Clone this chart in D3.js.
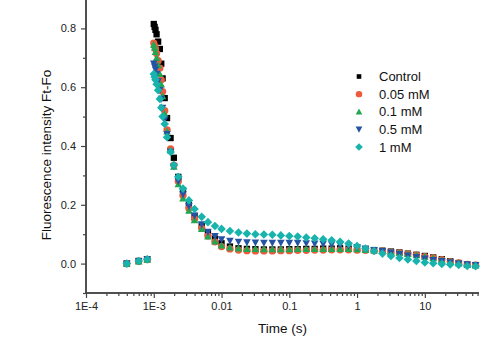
<!DOCTYPE html>
<html>
<head>
<meta charset="utf-8">
<script src="https://cdn.jsdelivr.net/npm/d3@7"></script>
<style>
  html, body { margin: 0; padding: 0; background: #fff; }
  svg { display: block; font-family: Arial, "Liberation Sans", sans-serif; }
</style>
</head>
<body>
<div id="chart"></div>
<script>
// sampling times (s)
const times = [
  0.0004, 0.0006, 0.0008,
  0.00100, 0.00103, 0.00106, 0.00110, 0.00116, 0.00123, 0.00129, 0.00135, 0.00145, 0.00157,
  0.00177, 0.00198, 0.00230, 0.00270, 0.00330, 0.00400, 0.00510, 0.00630, 0.00800,
  0.0100, 0.0133, 0.0178, 0.0237, 0.0316, 0.0422, 0.0562, 0.0750,
  0.100, 0.133, 0.178, 0.237, 0.316, 0.422, 0.562, 0.750,
  1.00, 1.33, 1.78, 2.37, 3.16, 4.22, 5.62, 7.50,
  10.0, 13.3, 17.8, 23.7, 31.6, 42.2, 56.2
];

const seriesNames = ["Control", "0.05 mM", "0.1 mM", "0.5 mM", "1 mM"];

// Ft-Fo for each treatment
const control = [
  0.0, 0.009, 0.015,
  0.815, 0.805, 0.795, 0.78, 0.755, 0.73, 0.68, 0.63, 0.563, 0.495,
  0.427, 0.36, 0.295, 0.25, 0.20, 0.162, 0.13, 0.105, 0.085,
  0.069, 0.058, 0.052, 0.05, 0.049, 0.048, 0.048, 0.048,
  0.049, 0.049, 0.05, 0.05, 0.051, 0.051, 0.052, 0.051,
  0.05, 0.048, 0.046, 0.044, 0.041, 0.038, 0.034, 0.03,
  0.026, 0.021, 0.015, 0.008, 0.002, -0.004, -0.005
];
const mM005 = [
  0.0, 0.008, 0.014,
  0.75, 0.74, 0.73, 0.715, 0.69, 0.665, 0.625, 0.585, 0.52, 0.455,
  0.39, 0.335, 0.28, 0.232, 0.188, 0.152, 0.12, 0.094, 0.074,
  0.058, 0.05, 0.046, 0.044, 0.043, 0.043, 0.043, 0.044,
  0.044, 0.045, 0.045, 0.046, 0.046, 0.047, 0.047, 0.047,
  0.046, 0.045, 0.044, 0.042, 0.039, 0.036, 0.033, 0.029,
  0.024, 0.019, 0.013, 0.007, 0.002, -0.003, -0.005
];
const mM01 = [
  0.0, 0.008, 0.014,
  0.745, 0.735, 0.72, 0.70, 0.675, 0.645, 0.61, 0.57, 0.51, 0.45,
  0.385, 0.33, 0.27, 0.222, 0.18, 0.148, 0.118, 0.093, 0.076,
  0.062, 0.055, 0.052, 0.05, 0.05, 0.049, 0.049, 0.049,
  0.049, 0.05, 0.05, 0.05, 0.05, 0.05, 0.05, 0.05,
  0.049, 0.047, 0.045, 0.043, 0.04, 0.037, 0.033, 0.029,
  0.024, 0.019, 0.013, 0.007, 0.002, -0.003, -0.006
];
const mM05 = [
  0.0, 0.008, 0.014,
  0.68, 0.67, 0.66, 0.645, 0.62, 0.59, 0.56, 0.53, 0.49, 0.44,
  0.38, 0.33, 0.28, 0.235, 0.195, 0.163, 0.133, 0.108, 0.093,
  0.082, 0.077, 0.074, 0.072, 0.071, 0.07, 0.07, 0.07,
  0.07, 0.07, 0.069, 0.068, 0.067, 0.065, 0.063, 0.06,
  0.056, 0.051, 0.046, 0.042, 0.037, 0.032, 0.027, 0.022,
  0.017, 0.012, 0.008, 0.004, 0.0, -0.003, -0.005
];
const mM1 = [
  0.0, 0.009, 0.015,
  0.645, 0.635, 0.625, 0.61, 0.59, 0.56, 0.53, 0.50, 0.475, 0.43,
  0.38, 0.335, 0.295, 0.255, 0.215, 0.186, 0.159, 0.141, 0.128,
  0.118, 0.111, 0.106, 0.102, 0.1, 0.099, 0.098, 0.096,
  0.094, 0.092, 0.089, 0.086, 0.083, 0.079, 0.074, 0.068,
  0.06, 0.051, 0.043, 0.034, 0.026, 0.019, 0.014, 0.009,
  0.004, 0.001, -0.001, -0.003, -0.005, -0.008, -0.009
];

const xMajorTicks = [1e-4, 1e-3, 1e-2, 1e-1, 1, 10];
const xTickLabels = ["1E-4", "1E-3", "0.01", "0.1", "1", "10"];
const yMajorTicks = [0, 0.2, 0.4, 0.6, 0.8];
const yMinorTicks = [-0.1, 0.1, 0.3, 0.5, 0.7];

const width = 504, height = 345;
const margin = { top: -1, right: 25, bottom: 52, left: 86 };

const colors = ["#000000", "#ef5a3c", "#22a652", "#2553a3", "#17b3ac"];
const symbols = ["square", "circle", "triangle", "triangleDown", "diamond"];

const svg = d3.select("#chart").append("svg")
  .attr("width", width)
  .attr("height", height);

const x = d3.scaleLog()
  .domain([1e-4, 63])
  .range([margin.left, width - margin.right]);

const y = d3.scaleLinear()
  .domain([-0.1, 0.9])
  .range([height - margin.bottom, margin.top]);

const axisColor = "#444";
const plotBottom = height - margin.bottom;

// minor log ticks, 2..9 within each decade
const xMinorTicks = [];
xMajorTicks.forEach(d => {
  for (let k = 2; k <= 9; k++) {
    const v = d * k;
    if (v <= x.domain()[1]) xMinorTicks.push(v);
  }
});

// x axis
const gx = svg.append("g").attr("transform", `translate(0,${plotBottom})`);
gx.call(d3.axisBottom(x).tickValues(xMinorTicks).tickSize(3).tickFormat(""));
gx.call(g => g.append("g").call(d3.axisBottom(x).tickValues(xMajorTicks).tickSize(5)
  .tickFormat((d, i) => xTickLabels[i])));
gx.selectAll("path.domain").attr("stroke", axisColor).attr("stroke-width", 1.5)
  .attr("d", `M${margin.left},0H${width - margin.right}`);
gx.selectAll(".tick line").attr("stroke", axisColor).attr("stroke-width", 1.2);
gx.selectAll(".tick text").attr("fill", "#222").attr("font-size", 11)
  .attr("font-family", "Arial, 'Liberation Sans', sans-serif").attr("y", 9);

// y axis
const gy = svg.append("g").attr("transform", `translate(${margin.left},0)`);
gy.call(d3.axisLeft(y).tickValues(yMinorTicks).tickSize(3).tickFormat(""));
gy.call(g => g.append("g").call(d3.axisLeft(y).tickValues(yMajorTicks).tickSize(5)
  .tickFormat(d3.format(".1f"))));
gy.selectAll("path.domain").attr("stroke", axisColor).attr("stroke-width", 1.5)
  .attr("d", `M0,${plotBottom}V0`);
gy.selectAll(".tick line").attr("stroke", axisColor).attr("stroke-width", 1.2);
gy.selectAll(".tick text").attr("fill", "#222").attr("font-size", 11)
  .attr("font-family", "Arial, 'Liberation Sans', sans-serif").attr("x", -10);

// axis titles
svg.append("text")
  .attr("x", (margin.left + width - margin.right) / 2)
  .attr("y", 333)
  .attr("text-anchor", "middle")
  .attr("font-size", 13.5)
  .attr("fill", "#111")
  .text("Time (s)");

svg.append("text")
  .attr("transform", "translate(51,155) rotate(-90)")
  .attr("text-anchor", "middle")
  .attr("font-size", 13.5)
  .attr("fill", "#111")
  .text("Fluorescence intensity Ft-Fo");

// marker shapes
function drawMarker(sel, kind, color, s) {
  if (kind === "square") {
    sel.append("rect").attr("x", -s / 2).attr("y", -s / 2).attr("width", s).attr("height", s).attr("fill", color);
  } else if (kind === "circle") {
    sel.append("circle").attr("r", s * 0.58).attr("fill", color);
  } else if (kind === "triangle") {
    const h = s * 1.0, w = s * 1.2;
    sel.append("path").attr("d", `M0,${-h * 0.6}L${w / 2},${h * 0.5}L${-w / 2},${h * 0.5}Z`).attr("fill", color);
  } else if (kind === "triangleDown") {
    const h = s * 1.0, w = s * 1.2;
    sel.append("path").attr("d", `M0,${h * 0.6}L${w / 2},${-h * 0.5}L${-w / 2},${-h * 0.5}Z`).attr("fill", color);
  } else {
    const r = s * 0.68;
    sel.append("path").attr("d", `M0,${-r}L${r},0L0,${r}L${-r},0Z`).attr("fill", color);
  }
}

const allSeries = [control, mM005, mM01, mM05, mM1];

allSeries.forEach((values, si) => {
  const pts = values.map((v, i) => ({ t: times[i], v }));
  svg.append("g")
    .selectAll("g")
    .data(pts)
    .join("g")
    .attr("transform", d => `translate(${x(d.t)},${y(d.v)})`)
    .each(function () { drawMarker(d3.select(this), symbols[si], colors[si], 6.3); });
});

// legend
const legend = svg.append("g");
const legendY = d3.scalePoint().domain(seriesNames).range([76.5, 147]);
seriesNames.forEach((name, i) => {
  const row = legend.append("g").attr("transform", `translate(359,${legendY(name)})`);
  drawMarker(row, symbols[i], colors[i], i === 0 ? 4.6 : 5.6);
  row.append("text")
    .attr("x", 20)
    .attr("dy", "0.36em")
    .attr("font-size", 13)
    .attr("fill", "#111")
    .text(name);
});
</script>
</body>
</html>
